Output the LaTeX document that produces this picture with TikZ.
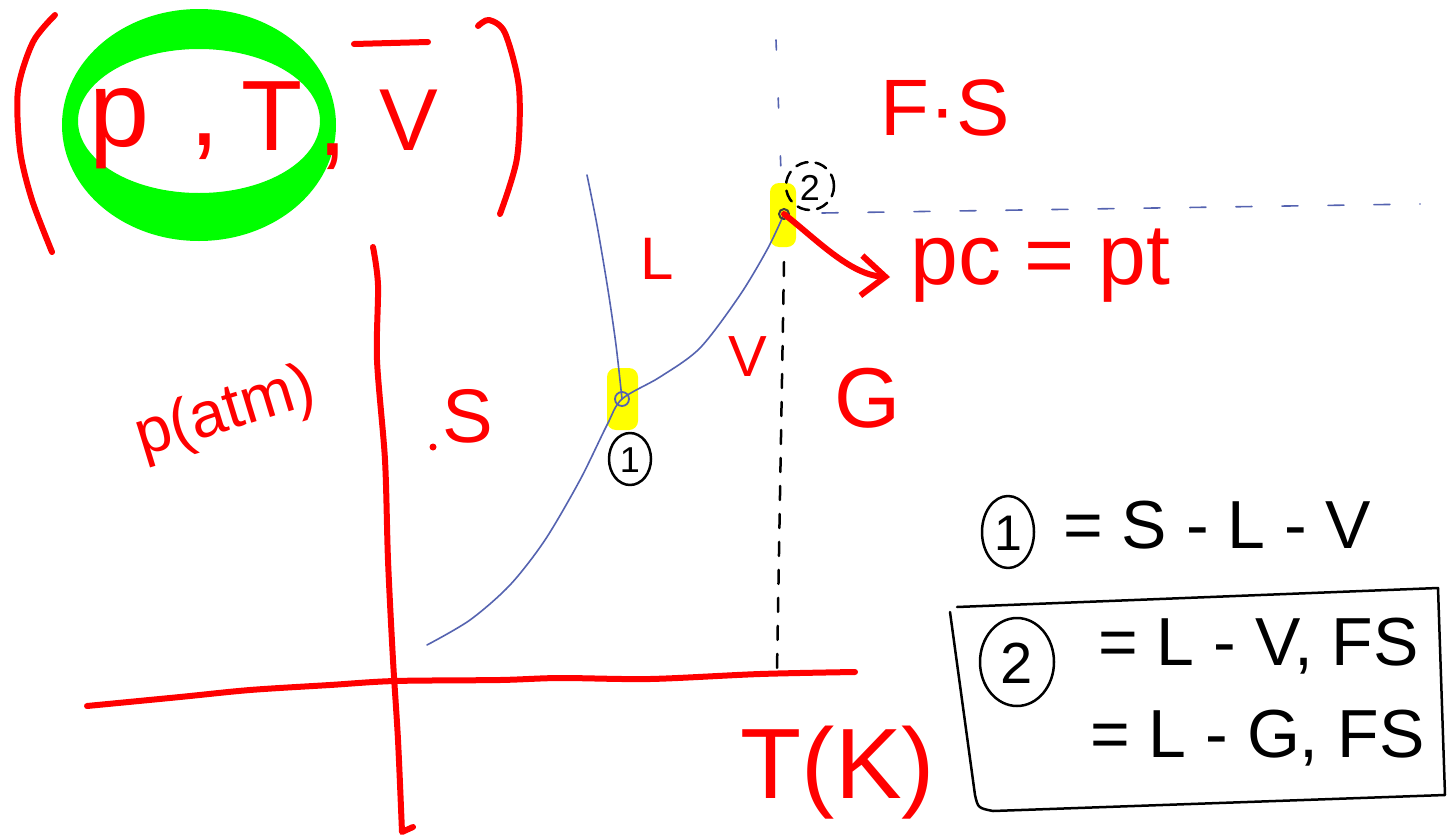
\documentclass[tikz,border=0pt]{standalone}
\usepackage{fontspec}
\setmainfont{Liberation Sans}
\usetikzlibrary{arrows.meta}
\definecolor{pen}{HTML}{FF0000}
\definecolor{hl}{HTML}{00FF00}
\definecolor{marker}{HTML}{FFFF00}
\definecolor{ink}{HTML}{5563B0}
\newcommand\penfs[1]{\fontsize{#1}{#1}\selectfont}

\begin{document}
\begin{tikzpicture}[x=1pt,y=-1pt,
  redline/.style={draw=pen,line width=6pt,line cap=round,line join=round},
  redtxt/.style={text=pen,inner sep=0pt,anchor=base},
  blktxt/.style={text=black,inner sep=0pt,anchor=base},
  phase/.style={draw=ink,line width=1.6pt,line cap=round},
  blkline/.style={draw=black,line width=2.5pt,line cap=round,line join=round},
  hilite/.style={fill=marker,rounded corners=9pt}]
\useasboundingbox (0,0) rectangle (1452,838);

% green ring around the first two variables
\fill[hl,even odd rule] (199,125) ellipse [x radius=137pt,y radius=116pt]
                        (199,121) ellipse [x radius=121pt,y radius=72pt];

% brackets and variables
\draw[redline] plot[smooth] coordinates {(55,15) (33,42) (18,90) (20,150) (32,200) (52,252)};
\draw[redline] plot[smooth] coordinates {(478,26) (489,20) (505,33) (519,88) (517,158) (500,214)};
\node[redtxt,font=\penfs{108}] (vp) at (120,146) {p};
\node[redtxt,font=\penfs{110}] (cm1) at (205,145) {,};
\node[redtxt,font=\penfs{100}] (vt) at (272,150) {T};
\node[redtxt,font=\penfs{110}] (cm2) at (333,155) {,};
\node[redtxt,font=\penfs{88}] (vv) at (409,150) {V};
\draw[redline] (354,44) -- (428,42);

% highlighted points
\fill[hilite] (770,183) rectangle (796,247);
\fill[hilite] (607,368) rectangle (638,430);

% axes
\draw[redline] plot[smooth] coordinates {(373,247) (378,285) (377,360) (385,460) (388,560) (393,660) (398,740) (402,832)} -- (413,827);
\draw[redline] plot[smooth] coordinates {(87,706) (180,697) (250,690) (330,685) (395,681) (500,680) (560,678) (650,679) (760,674) (855,672)};
\node[redtxt,font=\penfs{64},rotate=17,anchor=center] (ylab) at (226,414) {p(atm)};
\node[redtxt,font=\penfs{100}] (xlab) at (838,798) {T(K)};

% phase boundaries
\coordinate (tp) at (622,399);
\coordinate (cp) at (784,214);
\draw[phase] plot[smooth] coordinates {(427,645) (470,620) (510,585) (545,540) (580,480) (607,425) (622,399) (660,377) (700,348) (740,295) (768,248) (784,214)};
\draw[phase] plot[smooth] coordinates {(587,175) (597,225) (608,290) (616,345) (622,399)};
\draw[phase,dash pattern=on 10pt off 48pt] (776,40) -- (782,198);
\draw[phase,dash pattern=on 16pt off 30pt] (822,213) -- (1420,204);
\draw[blkline,dash pattern=on 14pt off 14pt] (784,262) -- (777,670);
\draw[ink,line width=1.8pt] (tp) circle (7pt);
\draw[darkgray,line width=2pt] (cp) circle (5pt);

% point labels
\draw[blkline] (630,459) ellipse [x radius=21pt,y radius=26pt];
\node[blktxt,font=\penfs{36},anchor=center] (n1) at (630,460) {1};
\draw[blkline,dash pattern=on 12pt off 8pt] (810,186) circle (24pt);
\node[blktxt,font=\penfs{36},anchor=center] (n2) at (810,188) {2};

% phase names
\node[redtxt,font=\penfs{76},anchor=center] (rS) at (468,416) {S};
\fill[pen] (433,447) circle (3.5pt);
\node[redtxt,font=\penfs{60},anchor=center] (rL) at (657,259) {L};
\node[redtxt,font=\penfs{58},anchor=center] (rV) at (748,357) {V};
\node[redtxt,font=\penfs{85},anchor=center] (rG) at (868,398) {G};
\node[redtxt,font=\penfs{80},anchor=center] (rFS) at (945,108) {F·S};

% critical point annotation
\node[redtxt,font=\penfs{86},anchor=base west] (pcpt) at (910,284) {pc = pt};
\coordinate (tip) at (890,277);
\draw[redline,-{Straight Barb[length=24pt,width=40pt]}] (cp) .. controls (815,238) and (850,275) .. (tip);

% legend
\draw[blkline] (1008,532) ellipse [x radius=26pt,y radius=36pt];
\node[blktxt,font=\penfs{50},anchor=center] (l1) at (1008,533) {1};
\node[blktxt,font=\penfs{68},anchor=base west] (t1) at (1063,548) {= S - L - V};
\draw[blkline] (957,607) -- (1438,588) -- (1445,795) -- (993,811) .. controls (978,808) .. (975,795) -- (950,612);
\draw[blkline] (1017,662) ellipse [x radius=37pt,y radius=44pt];
\node[blktxt,font=\penfs{58},anchor=center] (l2) at (1017,663) {2};
\node[blktxt,font=\penfs{68},anchor=base west] (t2) at (1098,665) {= L - V, FS};
\node[blktxt,font=\penfs{68},anchor=base west] (t3) at (1090,757) {= L - G, FS};
\end{tikzpicture}
\end{document}
